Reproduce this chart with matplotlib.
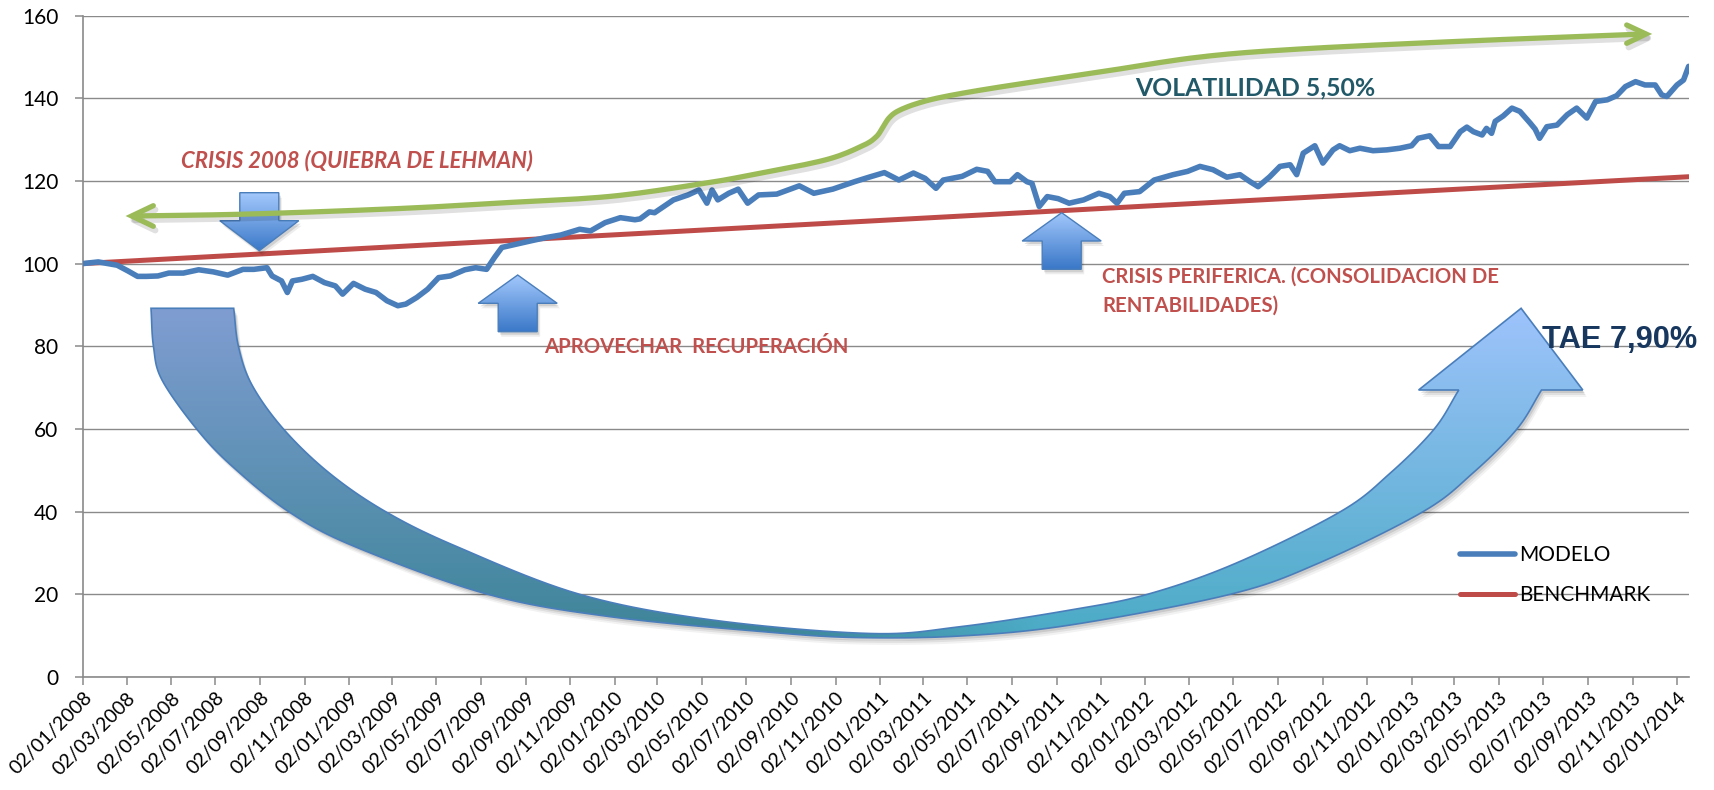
import numpy as np
import matplotlib
matplotlib.use('Agg')
import matplotlib.pyplot as plt
import matplotlib.dates as mdates
from matplotlib.patches import Polygon
from matplotlib import font_manager

avail = {f.name for f in font_manager.fontManager.ttflist}
BASE = 'Lato' if 'Lato' in avail else 'DejaVu Sans'
NARROW = 'Liberation Sans Narrow' if 'Liberation Sans Narrow' in avail else BASE
ARIAL = 'Liberation Sans' if 'Liberation Sans' in avail else 'DejaVu Sans'
plt.rcParams['font.family'] = [BASE, 'DejaVu Sans']

# ---------------- data ----------------
START = '2008-01-02'
modelo_day = [0, 21, 47, 62, 75, 87, 103, 118, 138, 159, 179, 199, 220, 235, 253, 260, 273, 281,
              288, 301, 316, 332, 347, 357, 372, 388, 403, 418, 433, 444, 459, 474, 489, 505,
              525, 540, 555, 566, 576, 596, 616, 637, 657, 683, 698, 718, 739, 759, 766, 779,
              786, 812, 832, 847, 858, 865, 873, 888, 901, 914, 929, 954, 985, 1005, 1031,
              1061, 1081, 1102, 1122, 1142, 1158, 1173, 1183, 1209, 1229, 1244, 1254, 1275,
              1285, 1298, 1305, 1315, 1326, 1341, 1356, 1376, 1397, 1412, 1422, 1432, 1453,
              1473, 1499, 1519, 1536, 1554, 1573, 1591, 1605, 1616, 1632, 1646, 1660, 1669,
              1678, 1694, 1705, 1719, 1728, 1742, 1756, 1774, 1793, 1811, 1827, 1836, 1852,
              1864, 1880, 1894, 1903, 1912, 1924, 1930, 1937, 1942, 1953, 1965, 1976, 1990,
              1997, 2003, 2013, 2027, 2041, 2054, 2068, 2080, 2096, 2109, 2121, 2135, 2148,
              2162, 2171, 2178, 2192, 2201, 2208]
modelo_val = [100.0, 100.4, 99.6, 98.2, 96.9, 96.9, 97.0, 97.7, 97.7, 98.5, 98.0, 97.2, 98.6,
              98.6, 99.0, 97.0, 95.8, 93.0, 95.8, 96.2, 96.9, 95.4, 94.6, 92.6, 95.2, 93.8,
              93.0, 91.0, 89.8, 90.2, 91.8, 93.8, 96.6, 97.0, 98.5, 99.0, 98.6, 101.5, 103.9,
              104.7, 105.5, 106.3, 106.9, 108.3, 107.9, 109.9, 111.1, 110.6, 110.8, 112.5,
              112.3, 115.4, 116.6, 117.8, 114.6, 117.8, 115.4, 117.0, 118.0, 114.6, 116.6,
              116.8, 118.8, 117.0, 118.0, 119.8, 120.9, 122.0, 120.2, 121.9, 120.6, 118.2,
              120.2, 121.1, 122.8, 122.3, 119.8, 119.8, 121.5, 119.8, 119.4, 113.8, 116.2,
              115.7, 114.6, 115.4, 117.0, 116.2, 114.6, 117.0, 117.4, 120.2, 121.5, 122.3,
              123.5, 122.7, 120.9, 121.5, 119.8, 118.6, 121.0, 123.5, 123.9, 121.5, 126.7,
              128.5, 124.3, 127.5, 128.5, 127.3, 127.9, 127.3, 127.5, 127.9, 128.5, 130.3,
              130.9, 128.3, 128.3, 131.9, 133.0, 131.9, 131.1, 132.7, 131.5, 134.4, 135.7,
              137.6, 136.8, 134.0, 132.5, 130.3, 133.1, 133.5, 136.0, 137.6, 135.2, 139.2,
              139.6, 140.6, 142.8, 144.0, 143.2, 143.2, 140.8, 140.4, 143.2, 144.4, 147.7]
bench_day = [0, 2208]
bench_val = [100.0, 121.0]
tick_dates = [f'{y}-{m:02d}-02' for y in range(2008, 2015) for m in range(1, 13, 2)][:37]
y_ticks = [0, 20, 40, 60, 80, 100, 120, 140, 160]
series_names = ['MODELO', 'BENCHMARK']

# ---------------- styles ----------------
BLUE = '#4a7ebb'
RED = '#be4b48'
GREEN = '#9bbb59'
GRID = '#8a8a8a'
TXT_RED = '#c0504d'

W, H = 1714, 790
fig = plt.figure(figsize=(W / 100, H / 100), dpi=100)
L, R, T, B = 83, 1689, 15.5, 677
ax = fig.add_axes([L / W, (H - B) / H, (R - L) / W, (B - T) / H], zorder=1)

start = np.datetime64(START)
xm = mdates.date2num(start + np.array(modelo_day).astype('timedelta64[D]'))
xb = mdates.date2num(start + np.array(bench_day).astype('timedelta64[D]'))
x0 = mdates.date2num(start)

ax.plot(xm, modelo_val, color=BLUE, lw=4.0, solid_capstyle='round',
        solid_joinstyle='round', label=series_names[0], zorder=4)
ax.plot(xb, bench_val, color=RED, lw=3.6, solid_capstyle='round',
        label=series_names[1], zorder=3)

ax.set_ylim(0, 160)
ax.set_yticks(y_ticks)
ax.set_xlim(x0, x0 + 2208.5)
ax.set_xticks(mdates.date2num(np.array(tick_dates, dtype='datetime64[D]')))
ax.xaxis.set_major_formatter(mdates.DateFormatter('%d/%m/%Y'))
ax.grid(axis='y', color=GRID, lw=1.0)
ax.set_axisbelow(True)
for s in ['top', 'right']:
    ax.spines[s].set_visible(False)
for s in ['left', 'bottom']:
    ax.spines[s].set_color(GRID)
    ax.spines[s].set_linewidth(1.2)
ax.tick_params(axis='both', colors=GRID, length=5.8, width=1.1, labelcolor='black')
ax.tick_params(axis='y', labelsize=15, pad=12)
ax.tick_params(axis='x', labelsize=14, pad=3)
for lab in ax.get_xticklabels():
    lab.set_rotation(45)
    lab.set_ha('right')
    lab.set_va('top')
    lab.set_rotation_mode('anchor')

leg = ax.legend(loc='upper left', bbox_to_anchor=(1460 / W, (H - 545) / H),
                bbox_transform=fig.transFigure, frameon=False, fontsize=15,
                handlelength=2.65, handletextpad=0.2, labelspacing=0.95,
                borderpad=0, borderaxespad=0)

# ---------------- overlay (pixel coordinates) ----------------
ov = fig.add_axes([0, 0, 1, 1], zorder=2)
ov.patch.set_visible(False)
ov.set_xlim(0, W)
ov.set_ylim(H, 0)
ov.axis('off')


def crom(pts, n=12):
    P = np.array(pts, float)
    P = np.vstack([2 * P[0] - P[1], P, 2 * P[-1] - P[-2]])
    out = []
    t = np.linspace(0, 1, n, endpoint=False)[:, None]
    for i in range(1, len(P) - 2):
        p0, p1, p2, p3 = P[i - 1], P[i], P[i + 1], P[i + 2]
        out.append(0.5 * ((2 * p1) + (-p0 + p2) * t + (2 * p0 - 5 * p1 + 4 * p2 - p3) * t ** 2
                          + (-p0 + 3 * p1 - 3 * p2 + p3) * t ** 3))
    out.append(P[-2][None])
    return np.vstack(out)


def hexrgb(h):
    h = h.lstrip('#')
    return np.array([int(h[i:i + 2], 16) / 255 for i in (0, 2, 4)])


def shadow(poly, layers=((2, 3, 0.10), (3, 5, 0.07), (4, 7, 0.05)), z=1):
    for dx, dy, a in layers:
        ov.add_patch(Polygon(np.array(poly) + [dx, dy], closed=True, fc='black',
                             ec='none', alpha=a, zorder=z))


def grad_fill(poly, colfunc, z, ec='#4a7ebb', lw=1.0, res=1.0):
    poly = np.array(poly)
    xa, xb_ = poly[:, 0].min() - 2, poly[:, 0].max() + 2
    ya, yb = poly[:, 1].min() - 2, poly[:, 1].max() + 2
    xs = np.arange(xa, xb_, res) + res / 2
    ys = np.arange(ya, yb, res) + res / 2
    X, Y = np.meshgrid(xs, ys)
    img = np.clip(colfunc(X, Y), 0, 1)
    edge = Polygon(poly, closed=True, fc='none', ec=ec, lw=lw, zorder=z + 0.1)
    ov.add_patch(edge)
    im = ov.imshow(img, extent=(xa, xb_, yb, ya), origin='upper', aspect='auto',
                   interpolation='bilinear', zorder=z)
    im.set_clip_path(edge)


# big curved arrow
outer_left = [(151, 308.3), (153.5, 346.7), (162, 380), (196.9, 429.3), (232.7, 466.7),
              (288.8, 511.7), (355.1, 546.7), (487.8, 594.3), (610.2, 616.7), (763.3, 631.7),
              (855, 637.5), (960.2, 636), (1070.4, 625), (1230.2, 594.3), (1318.3, 563.3),
              (1423, 511.7), (1472.6, 473.3), (1516.7, 429.3), (1541.5, 390)]
inner = [(1458.8, 390), (1434, 429.3), (1390, 473.3), (1340.4, 511.7), (1235.7, 563.3),
         (1147.5, 594.3), (1070.4, 610), (960.2, 626.7), (870, 633.5), (712.2, 620),
         (579.6, 594.3), (457, 546.7), (385.7, 511.7), (329.6, 473.3), (283.7, 429.3),
         (252, 385), (238.5, 346.7), (233.7, 308.3)]
head = [(1582.8, 390), (1521.1, 308.3), (1418.6, 390)]
big = np.vstack([crom(outer_left, 12), head, crom(inner, 12)])

cL_top, cL_bot = hexrgb('#809dd2'), hexrgb('#3d8598')
cR_top, cR_bot = hexrgb('#9ec3fc'), hexrgb('#4aabc5')


def big_col(X, Y):
    s = np.clip((Y - 308) / (637 - 308), 0, 1)[..., None]
    w = np.clip((X - 780) / 260, 0, 1)[..., None]
    left = cL_top * (1 - s) + cL_bot * s
    right = cR_top * (1 - s) + cR_bot * s
    return left * (1 - w) + right * w


shadow(big, z=1)
grad_fill(big, big_col, z=2, ec='#4a7ebb', lw=1.2, res=1.0)

# small block arrows
c_light, c_dark = hexrgb('#a3c8fc'), hexrgb('#3a78c8')


def block(cx, tip, hb, end, hw=79, sw=39):
    return [(cx - sw / 2, end), (cx + sw / 2, end), (cx + sw / 2, hb), (cx + hw / 2, hb),
            (cx, tip), (cx - hw / 2, hb), (cx - sw / 2, hb)]


for cx, tip, hb, end in [(259.3, 250.7, 220.7, 192.7), (517.7, 275, 303.3, 331.7),
                         (1061.7, 212.7, 241, 269.3)]:
    poly = block(cx, tip, hb, end)
    ya, yb = min(tip, end), max(tip, end)

    def col(X, Y, ya=ya, yb=yb):
        s = np.clip((Y - ya) / (yb - ya), 0, 1)[..., None]
        return c_light * (1 - s) + c_dark * s

    shadow(poly, layers=((2, 3, 0.12), (3, 5, 0.07)), z=3)
    grad_fill(poly, col, z=4, ec='#4a7ebb', lw=1.0)

# green double arrow
GREEN_PTS = [(133, 216), (250, 214), (400, 208.5), (500, 203), (609, 196.5), (700, 184),
             (751, 175), (825, 160), (862, 146), (876, 137), (883, 127), (889, 118),
             (898, 111), (917, 103.5), (945, 96.5), (1000, 87), (1100, 72), (1200, 57),
             (1300, 49), (1467, 41), (1645, 34)]
g = crom(GREEN_PTS, 10)
ov.plot(g[:, 0] + 2, g[:, 1] + 4, color='black', alpha=0.12, lw=4.5, solid_capstyle='round', zorder=5)
ov.plot(g[:, 0], g[:, 1], color=GREEN, lw=3.8, solid_capstyle='round', zorder=6)
for hx, hy in [([153.3, 131.7, 153.3], [205.7, 216, 226.3]),
               ([1626.7, 1646, 1626.7], [25, 34, 43.3])]:
    ov.plot(np.array(hx) + 2, np.array(hy) + 4, color='black', alpha=0.12, lw=4.5,
            solid_capstyle='round', zorder=5)
    ov.plot(hx, hy, color=GREEN, lw=3.8, solid_capstyle='round', solid_joinstyle='miter', zorder=6)

# texts
renderer = fig.canvas.get_renderer()


def fit(t, width):
    w = t.get_window_extent(renderer).width
    t.set_fontsize(t.get_fontsize() * width / w)
    return t.get_fontsize()


t1 = ov.text(181, 167, 'CRISIS 2008 (QUIEBRA DE LEHMAN)', color=TXT_RED, fontweight='bold',
             fontstyle='italic', fontsize=14, va='baseline', ha='left', zorder=8)
fit(t1, 352)
t2 = ov.text(544, 353, 'APROVECHAR  RECUPERACIÓN', color=TXT_RED, fontweight='bold',
             family=[NARROW, 'DejaVu Sans'], fontsize=14, va='baseline', ha='left', zorder=8)
fit(t2, 307)
t3 = ov.text(1102, 282.7, 'CRISIS PERIFERICA. (CONSOLIDACION DE', color=TXT_RED,
             fontweight='bold', fontsize=14, va='baseline', ha='left', zorder=8)
fs3 = fit(t3, 400)
ov.text(1102, 311.7, 'RENTABILIDADES)', color=TXT_RED, fontweight='bold', fontsize=fs3,
        va='baseline', ha='left', zorder=8)
t5 = ov.text(1375, 95, 'VOLATILIDAD 5,50%', color='#215968', fontweight='bold', fontsize=16,
             va='baseline', ha='right', zorder=8)
fit(t5, 240)
t6 = ov.text(1542, 348.3, 'TAE 7,90%', color='#17375e', fontweight='bold',
             family=[ARIAL, 'DejaVu Sans'], fontsize=20, va='baseline', ha='left', zorder=8)
fit(t6, 155)

fig.savefig('out.png', dpi=100, facecolor='white')
